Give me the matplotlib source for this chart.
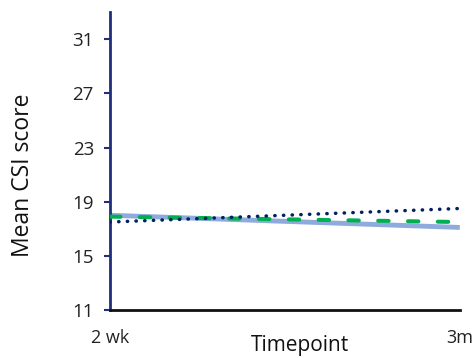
import matplotlib
matplotlib.use("Agg")
import matplotlib.pyplot as plt

timepoints = ["2 wk", "3m"]
series_solid = [18.0, 17.1]
series_dashed = [17.9, 17.5]
series_dotted = [17.5, 18.5]
yticks = [11, 15, 19, 23, 27, 31]

plt.rcParams['font.family'] = ['Open Sans', 'DejaVu Sans']

fig = plt.figure(figsize=(4.76, 3.58), dpi=100)
ax = fig.add_axes([0.231, 0.134, 0.735, 0.832])
x = list(range(len(timepoints)))

ax.plot(x, series_solid, color='#8FAADC', lw=3.5, solid_capstyle='butt', zorder=2)
ax.plot(x, series_dashed, color='#00B050', lw=2.9, linestyle=(0, (2.6, 4.8)), dash_capstyle='round', zorder=3)
ax.plot(x, series_dotted, color='#002060', lw=2.5, linestyle=(0, (0.1, 2.4)), dash_capstyle='round', zorder=4)

ax.set_xlim(0, 1)
ax.set_ylim(11, 33)
ax.set_yticks(yticks)
ax.set_yticklabels([str(v) for v in yticks], fontsize=13.5, color='#222222')
ax.set_xticks(x)
ax.set_xticklabels(timepoints, fontsize=13, color='#222222')

ax.tick_params(axis='y', direction='out', length=4.5, width=1.5, color='#1F2F7A', pad=7)
ax.tick_params(axis='x', length=0, pad=14)

for s in ['top', 'right']:
    ax.spines[s].set_visible(False)
ax.spines['left'].set_color('#1F2F7A')
ax.spines['left'].set_linewidth(2)
ax.spines['bottom'].set_color('#111111')
ax.spines['bottom'].set_linewidth(2)

ax.set_xlabel('Timepoint', fontsize=15, color='#111111')
ax.xaxis.set_label_coords(0.543, -0.085)
ax.set_ylabel('Mean CSI score', fontsize=16.5, color='#111111')
ax.yaxis.set_label_coords(-0.215, 0.453)

fig.savefig('out.png', dpi=100)
